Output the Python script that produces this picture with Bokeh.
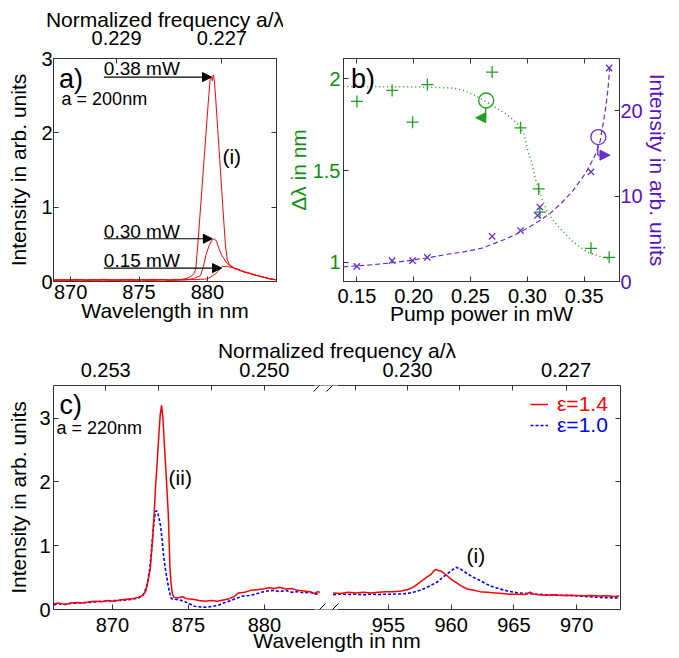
from bokeh.plotting import figure
from bokeh.models import (Range1d, LinearAxis, FixedTicker, Arrow, NormalHead, Label,
                          Legend, LegendItem, CustomJSTickFormatter)
from bokeh.layouts import column, row
from bokeh.embed import file_html
from bokeh.resources import INLINE

FONT = "Liberation Sans"
RED = "#ff0000"
BLUE = "#0000ff"
GREEN = "#1f9f1f"
GREEN_TXT = "#109010"
PURPLE = "#6a2ccc"
PURPLE_TXT = "#5a12c0"
AX = "#333333"

# ---------------- panel a data ----------------
a_lam_base = [868.8, 869.2, 869.6, 870.0, 870.4, 870.8, 871.2, 871.6, 872.0, 872.4, 872.8, 873.2,
              873.6, 874.0, 874.4, 874.8, 875.2, 875.6, 876.0, 876.4, 876.8, 877.2, 877.6, 878.0]
a_lam_tail = [882.2, 882.4, 882.6, 882.8, 883.0, 883.2, 883.4, 883.6, 883.8, 884.0, 884.2, 884.4,
              884.6, 884.8, 885.0]
a_lam_038 = a_lam_base + [878.3, 878.6, 878.8, 879.0, 879.15, 879.3, 879.5, 879.7, 879.9, 880.1,
                          880.2, 880.3, 880.36, 880.43, 880.5, 880.6, 880.75, 880.9, 881.05, 881.2,
                          881.32, 881.45, 881.6, 881.8, 882.0] + a_lam_tail
a_int_038 = [0.02, 0.025, 0.015, 0.02, 0.03, 0.02, 0.015, 0.025, 0.02, 0.03, 0.02, 0.025,
             0.015, 0.02, 0.03, 0.02, 0.025, 0.02, 0.03, 0.02, 0.025, 0.02, 0.03, 0.025,
             0.035, 0.05, 0.07, 0.1, 0.17, 0.5, 1.0, 1.5, 2.0, 2.5,
             2.72, 2.75, 2.70, 2.78, 2.72, 2.48, 2.06, 1.64, 1.22, 0.8,
             0.48, 0.3, 0.22, 0.2, 0.17,
             0.165, 0.145, 0.135, 0.12, 0.115, 0.1, 0.09, 0.085, 0.07, 0.06, 0.055, 0.04,
             0.035, 0.03, 0.025]
a_lam_030 = a_lam_base + [878.3, 878.7, 879.0, 879.25, 879.5, 879.7, 879.9, 880.1, 880.3, 880.5,
                          880.6, 880.7, 880.85, 881.0, 881.2, 881.4, 881.6, 881.8, 882.0] + a_lam_tail
a_int_030 = [0.015, 0.02, 0.025, 0.015, 0.02, 0.025, 0.02, 0.015, 0.025, 0.02, 0.015, 0.02,
             0.025, 0.02, 0.015, 0.025, 0.02, 0.015, 0.02, 0.025, 0.02, 0.015, 0.02, 0.025,
             0.025, 0.03, 0.04, 0.06, 0.08, 0.2, 0.36, 0.47, 0.55, 0.575,
             0.56, 0.52, 0.44, 0.37, 0.31, 0.25, 0.22, 0.2, 0.175,
             0.16, 0.15, 0.13, 0.125, 0.11, 0.105, 0.09, 0.08, 0.075, 0.065, 0.05, 0.045,
             0.035, 0.03, 0.02]
a_lam_015 = a_lam_base + [878.3, 878.7, 879.1, 879.5, 879.8, 880.0, 880.2, 880.4, 880.6, 880.8,
                          881.0, 881.1, 881.25, 881.4, 881.6, 881.8, 882.0] + a_lam_tail
a_int_015 = [0.02, 0.015, 0.02, 0.025, 0.015, 0.02, 0.02, 0.025, 0.015, 0.02, 0.025, 0.015,
             0.02, 0.025, 0.02, 0.015, 0.02, 0.025, 0.015, 0.02, 0.025, 0.02, 0.015, 0.02,
             0.02, 0.025, 0.025, 0.03, 0.03, 0.04, 0.055, 0.08, 0.105, 0.14,
             0.19, 0.205, 0.2, 0.205, 0.195, 0.19, 0.175,
             0.17, 0.15, 0.14, 0.125, 0.12, 0.1, 0.095, 0.08, 0.075, 0.06, 0.055, 0.045,
             0.03, 0.03, 0.025]
a_bottom_ticks = [870, 875, 880]
a_left_ticks = [0, 1, 2, 3]
a_freq_ticks = [0.229, 0.227]
a_lattice = 200.0

# ---------------- panel b data ----------------
b_power = [0.150, 0.181, 0.199, 0.212, 0.269, 0.294, 0.310, 0.311, 0.356, 0.372]
b_dlam = [1.877, 1.937, 1.764, 1.969, 2.037, 1.733, 1.400, 1.273, 1.076, 1.027]
b_power_i = [0.150, 0.181, 0.199, 0.212, 0.269, 0.294, 0.309, 0.311, 0.356, 0.372]
b_inten = [1.77, 2.44, 2.44, 2.82, 5.29, 5.96, 7.73, 8.71, 12.83, 24.99]
b_gfit_p = [0.138, 0.16, 0.18, 0.20, 0.22, 0.235, 0.245, 0.255, 0.264, 0.273, 0.281, 0.288,
            0.293, 0.297, 0.300, 0.304, 0.307, 0.311, 0.314, 0.318, 0.324, 0.331, 0.339,
            0.346, 0.353, 0.36, 0.367, 0.372]
b_gfit_d = [1.958, 1.958, 1.957, 1.956, 1.953, 1.95, 1.935, 1.905, 1.875, 1.84, 1.81, 1.775,
            1.745, 1.70, 1.62, 1.54, 1.455, 1.38, 1.327, 1.27, 1.218, 1.17, 1.118,
            1.085, 1.055, 1.04, 1.025, 1.019]
b_pfit_p = [0.138, 0.16, 0.18, 0.20, 0.215, 0.23, 0.245, 0.26, 0.27, 0.28, 0.29, 0.30, 0.31,
            0.32, 0.33, 0.34, 0.35, 0.355, 0.36, 0.364, 0.367, 0.369, 0.371, 0.3725]
b_pfit_i = [1.72, 1.92, 2.17, 2.53, 2.83, 3.19, 3.49, 3.9, 4.41, 4.92, 5.53, 6.24, 7.05,
            7.97, 9.19, 10.61, 12.44, 13.56, 14.88, 16.4, 18.74, 20.37, 22.6, 25.04]
b_x_ticks = [0.15, 0.20, 0.25, 0.30, 0.35]
b_x_labels = ["0.15", "0.20", "0.25", "0.30", "0.35"]
b_left_ticks = [1, 1.5, 2]
b_left_labels = ["1", "1.5", "2"]
b_right_ticks = [0, 10, 20]

# ---------------- panel c data ----------------
c_lamL_red = [866.15, 866.5, 866.9, 867.3, 867.7, 868.1, 868.5, 868.9, 869.3, 869.7, 870.1, 870.5,
              870.9, 871.3, 871.7, 872.0, 872.2, 872.35, 872.5, 872.65, 872.75, 872.85, 872.95,
              873.05, 873.15, 873.24, 873.33, 873.42, 873.5, 873.6, 873.68, 873.74, 873.79,
              873.87, 873.95, 874.05, 874.3, 874.6, 874.9, 875.3, 875.7, 876.1, 876.5, 876.9,
              877.3, 877.7, 878.0, 878.3, 878.7, 879.1, 879.5, 879.9, 880.3, 880.7, 881.0,
              881.4, 881.8, 882.2, 882.6, 883.0, 883.3, 883.5, 883.66]
c_intL_red = [0.09, 0.1, 0.08, 0.1, 0.11, 0.1, 0.12, 0.13, 0.12, 0.14, 0.13, 0.15,
              0.16, 0.17, 0.19, 0.22, 0.29, 0.45, 0.65, 1.1, 1.5, 1.95, 2.3,
              2.7, 3.05, 3.2, 3.0, 2.6, 2.28, 1.85, 1.5, 1.05, 0.66,
              0.4, 0.25, 0.19, 0.18, 0.2, 0.17, 0.16, 0.14, 0.13, 0.14, 0.13,
              0.15, 0.17, 0.2, 0.26, 0.27, 0.3, 0.31, 0.32, 0.34, 0.33, 0.35,
              0.32, 0.33, 0.3, 0.29, 0.28, 0.25, 0.28, 0.27]
c_lamL_blue = [866.15, 866.5, 866.9, 867.3, 867.7, 868.1, 868.5, 868.9, 869.3, 869.7, 870.1, 870.5,
               870.9, 871.3, 871.7, 872.0, 872.2, 872.3, 872.45, 872.55, 872.65, 872.75, 872.85,
               872.92, 873.0, 873.1, 873.18, 873.27, 873.36, 873.5, 873.62, 873.75, 873.88,
               874.1, 874.4, 874.7, 875.0, 875.4, 875.8, 876.2, 876.6, 877.0, 877.4, 877.8,
               878.2, 878.6, 879.0, 879.4, 879.8, 880.2, 880.6, 881.0, 881.4, 881.8, 882.2,
               882.6, 883.0, 883.4, 883.66]
c_intL_blue = [0.07, 0.09, 0.08, 0.1, 0.1, 0.11, 0.11, 0.12, 0.13, 0.13, 0.14, 0.14,
               0.15, 0.16, 0.18, 0.22, 0.32, 0.4, 0.62, 0.85, 1.15, 1.4, 1.53,
               1.55, 1.5, 1.4, 1.3, 1.1, 0.87, 0.62, 0.45, 0.28, 0.17,
               0.16, 0.15, 0.13, 0.1, 0.05, 0.04, 0.035, 0.05, 0.07, 0.11, 0.14,
               0.18, 0.21, 0.22, 0.24, 0.27, 0.29, 0.3, 0.28, 0.3, 0.27, 0.28,
               0.26, 0.27, 0.24, 0.26]
c_lamR_red = [950.6, 951.2, 951.8, 952.4, 953.0, 953.6, 954.2, 954.8, 955.4, 956.0,
              956.5, 957.0, 957.4, 957.8, 958.1, 958.4, 958.6, 958.8, 959.0, 959.2,
              959.5, 959.8, 960.1, 960.5, 960.9, 961.3, 961.8, 962.3, 962.9, 963.5,
              964.1, 964.7, 965.3, 965.9, 966.3, 966.6, 967.0, 967.6, 968.2, 968.8,
              969.4, 970.0, 970.6, 971.2, 971.8, 972.4, 973.0, 973.4]
c_intR_red = [0.26, 0.25, 0.27, 0.26, 0.27, 0.26, 0.27, 0.28, 0.28, 0.29,
              0.31, 0.35, 0.41, 0.47, 0.51, 0.55, 0.6, 0.63, 0.61, 0.6,
              0.56, 0.51, 0.46, 0.41, 0.36, 0.32, 0.3, 0.28, 0.27, 0.26,
              0.25, 0.24, 0.24, 0.235, 0.27, 0.24, 0.23, 0.225, 0.23, 0.22,
              0.225, 0.22, 0.215, 0.22, 0.21, 0.215, 0.205, 0.21]
c_lamR_blue = [950.6, 951.2, 951.8, 952.4, 953.0, 953.6, 954.2, 954.8, 955.4, 956.0,
               956.5, 957.0, 957.5, 958.0, 958.5, 958.9, 959.3, 959.7, 960.1, 960.4,
               960.7, 961.0, 961.3, 961.8, 962.35, 962.9, 963.4, 963.9, 964.5, 965.2,
               966.0, 966.8, 967.6, 968.4, 969.5, 970.3, 971.0, 971.8, 972.5, 973.4]
c_intR_blue = [0.23, 0.24, 0.235, 0.24, 0.23, 0.24, 0.235, 0.24, 0.24, 0.245,
               0.25, 0.27, 0.3, 0.34, 0.39, 0.43, 0.5, 0.56, 0.62, 0.66,
               0.64, 0.6, 0.56, 0.5, 0.45, 0.39, 0.35, 0.32, 0.29, 0.265,
               0.25, 0.24, 0.23, 0.225, 0.22, 0.21, 0.2, 0.19, 0.185, 0.18]
c_left_ticks = [870, 875, 880]
c_right_ticks = [955, 960, 965, 970]
c_freq_left = [0.253, 0.252, 0.251, 0.250]
c_freq_right = [0.231, 0.230, 0.229, 0.228, 0.227]
c_freq_labeled = [0.253, 0.250, 0.230, 0.227]
c_y_ticks = [0, 1, 2, 3]
c_lattice = 220.0
legend_labels = ["\u03b5=1.4", "\u03b5=1.0"]


def style(ax, color="black", std=2, lstd=4):
    ax.major_tick_in = 5
    ax.major_tick_out = 0
    ax.minor_tick_line_color = None
    ax.major_tick_line_color = AX
    ax.axis_line_color = AX
    ax.major_label_text_font = FONT
    ax.major_label_text_font_size = "20px"
    ax.major_label_text_color = color
    ax.axis_label_text_font = FONT
    ax.axis_label_text_font_size = "21px"
    ax.axis_label_text_font_style = "normal"
    ax.axis_label_text_color = color
    ax.major_label_standoff = std
    ax.axis_label_standoff = lstd


def mirror(p, side, ticks, **kw):
    ax = LinearAxis(ticker=FixedTicker(ticks=ticks, minor_ticks=[]),
                    formatter=CustomJSTickFormatter(code="return ''"), **kw)
    style(ax, std=0, lstd=0)
    ax.major_label_text_font_size = "0px"
    p.add_layout(ax, side)


def txt(p, x, y, text, size, color="black", align="left"):
    p.add_layout(Label(x=x, y=y, text=text, text_font=FONT, text_font_size=size,
                       text_color=color, text_baseline="middle", text_align=align))


def arrow(p, x0, y0, x1, y1, color="black", size=9, **kw):
    p.add_layout(Arrow(end=NormalHead(size=size, fill_color=color, line_color=color, line_width=1),
                       x_start=x0, y_start=y0, x_end=x1, y_end=y1,
                       line_color=color, line_width=1.2, **kw))


# ================= panel a =================
pa = figure(width=283, height=330, x_range=Range1d(868.75, 885.05), y_range=Range1d(0, 3),
            output_backend="svg", toolbar_location=None,
            min_border_left=53, min_border_right=7, min_border_top=58, min_border_bottom=49)
pa.grid.visible = False
pa.outline_line_color = AX
xa = pa.xaxis[0]
xa.ticker = FixedTicker(ticks=a_bottom_ticks, minor_ticks=[])
xa.axis_label = "Wavelength in nm"
style(xa, std=3, lstd=-3)
ya = pa.yaxis[0]
ya.ticker = FixedTicker(ticks=a_left_ticks, minor_ticks=[])
ya.axis_label = "Intensity in arb. units"
style(ya, std=1, lstd=8)
a_top_pos = [round(a_lattice / f, 4) for f in a_freq_ticks]
ta = LinearAxis(ticker=FixedTicker(ticks=a_top_pos, minor_ticks=[]),
                major_label_overrides={pos: "%.3f" % f for pos, f in zip(a_top_pos, a_freq_ticks)},
                axis_label="Normalized frequency a/\u03bb")
style(ta, std=14, lstd=-3)
pa.add_layout(ta, "above")
mirror(pa, "right", a_left_ticks)

pa.line(a_lam_015, a_int_015, color=RED, line_width=1)
pa.line(a_lam_030, a_int_030, color=RED, line_width=1)
pa.line(a_lam_038, a_int_038, color=RED, line_width=1)

arrow(pa, 872.43, 2.75, 880.3, 2.75)
arrow(pa, 872.43, 0.575, 880.36, 0.575)
arrow(pa, 872.43, 0.18, 881.03, 0.18)
txt(pa, 872.43, 2.86, "0.38 mW", "19px")
txt(pa, 872.43, 0.67, "0.30 mW", "19px")
txt(pa, 872.43, 0.28, "0.15 mW", "19px")
txt(pa, 869.15, 2.72, "a)", "27px")
txt(pa, 869.34, 2.45, "a = 200nm", "18px")
txt(pa, 881.1, 1.68, "(i)", "21px")

# ================= panel b =================
pb = figure(width=396, height=330, x_range=Range1d(0.1382, 0.3811), y_range=Range1d(0.895, 2.111),
            output_backend="svg", toolbar_location=None,
            min_border_left=55, min_border_right=60, min_border_top=58, min_border_bottom=49)
pb.extra_y_ranges = {"int": Range1d(0, 26.1)}
pb.grid.visible = False
pb.outline_line_color = AX
xb = pb.xaxis[0]
xb.ticker = FixedTicker(ticks=b_x_ticks, minor_ticks=[])
xb.major_label_overrides = dict(zip(b_x_ticks, b_x_labels))
xb.axis_label = "Pump power in mW"
style(xb, std=7, lstd=-4)
yb = pb.yaxis[0]
yb.ticker = FixedTicker(ticks=b_left_ticks, minor_ticks=[])
yb.major_label_overrides = dict(zip(b_left_ticks, b_left_labels))
yb.axis_label = "\u0394\u03bb in nm"
style(yb, color=GREEN_TXT, std=3, lstd=0)
rb = LinearAxis(y_range_name="int", ticker=FixedTicker(ticks=b_right_ticks, minor_ticks=[]),
                axis_label="Intensity in arb. units")
style(rb, color=PURPLE_TXT, std=1, lstd=0)
pb.add_layout(rb, "right")
mirror(pb, "above", b_x_ticks)

pb.line(b_gfit_p, b_gfit_d, color=GREEN, line_width=1.5, line_dash="1 3")
pb.line(b_pfit_p, b_pfit_i, color=PURPLE, line_width=1.2, line_dash="5 3", y_range_name="int")
pb.scatter(b_power, b_dlam, marker="cross", size=12, line_color=GREEN, line_width=1.3)
pb.scatter(b_power_i, b_inten, marker="x", size=9, line_color=PURPLE, line_width=1.3,
           y_range_name="int")
# marker circles with arrows pointing to the respective axis
g_circle = (0.2638, 1.882)
p_circle = (0.3625, 16.9)
pb.scatter([g_circle[0]], [g_circle[1]], marker="circle", size=15, fill_color=None,
           line_color=GREEN, line_width=1.3)
pb.scatter([p_circle[0]], [p_circle[1]], marker="circle", size=15, fill_color=None,
           line_color=PURPLE, line_width=1.3, y_range_name="int")
pb.line([0.2633, 0.2633], [1.842, 1.788], color=GREEN, line_width=1.3)
arrow(pb, 0.2633, 1.788, 0.2546, 1.788, color=GREEN, size=10)
pb.line([0.3620, 0.3620], [16.05, 14.79], color=PURPLE, line_width=1.3, y_range_name="int")
arrow(pb, 0.3620, 14.79, 0.3727, 14.79, color=PURPLE, size=10, y_range_name="int")
txt(pb, 0.1448, 1.997, "b)", "27px")

# ================= panel c =================
pc = figure(width=679, height=328, x_range=Range1d(866.13, 903.43), y_range=Range1d(0, 3.51),
            output_backend="svg", toolbar_location=None,
            min_border_left=53, min_border_right=59, min_border_top=55, min_border_bottom=49)
pc.grid.visible = False
pc.outline_line_color = None
SRC = (950.55, 973.5)
TGT = (884.485, 903.43)
sub = pc.subplot(x_source=Range1d(*SRC), y_source=Range1d(0, 3.51),
                 x_target=Range1d(*TGT), y_target=Range1d(0, 3.51))


def to_parent(v):
    return round(TGT[0] + (v - SRC[0]) * (TGT[1] - TGT[0]) / (SRC[1] - SRC[0]), 4)


xc = pc.xaxis[0]
c_bottom_pos = list(c_left_ticks) + [to_parent(v) for v in c_right_ticks]
c_bottom_lab = [str(v) for v in c_left_ticks] + [str(v) for v in c_right_ticks]
xc.ticker = FixedTicker(ticks=c_bottom_pos, minor_ticks=[])
xc.major_label_overrides = dict(zip(c_bottom_pos, c_bottom_lab))
xc.axis_label = "Wavelength in nm"
style(xc, std=8, lstd=-6)
yc = pc.yaxis[0]
yc.ticker = FixedTicker(ticks=c_y_ticks, minor_ticks=[])
yc.axis_label = "Intensity in arb. units"
style(yc, std=3, lstd=6)
c_top_pos = [round(c_lattice / f, 4) for f in c_freq_left] + \
            [to_parent(c_lattice / f) for f in c_freq_right]
c_top_all = c_freq_left + c_freq_right
c_top_lab = {pos: ("%.3f" % f if f in c_freq_labeled else "") for pos, f in zip(c_top_pos, c_top_all)}
tc = LinearAxis(ticker=FixedTicker(ticks=c_top_pos, minor_ticks=[]), major_label_overrides=c_top_lab,
                axis_label="Normalized frequency a/\u03bb")
style(tc, std=9, lstd=-2)
pc.add_layout(tc, "above")
mirror(pc, "right", c_y_ticks)

pc.line(c_lamL_blue, c_intL_blue, color=BLUE, line_width=1.6, line_dash="3 2")
pc.line(c_lamL_red, c_intL_red, color=RED, line_width=1.5)
rB = sub.line(c_lamR_blue, c_intR_blue, color=BLUE, line_width=1.6, line_dash="3 2")
rR = sub.line(c_lamR_red, c_intR_red, color=RED, line_width=1.5)

# axis break marks
for yb0 in (3.51, 0.0):
    pc.add_layout(Arrow(end=None, x_start=883.3, y_start=yb0, x_end=884.85, y_end=yb0,
                        line_color="white", line_width=4))
    for xs in (883.235, 884.09):
        pc.add_layout(Arrow(end=None, x_start=xs, y_start=yb0 - 0.094, x_end=xs + 0.79,
                            y_end=yb0 + 0.094, line_color="black", line_width=1))

for lab, r, col, ly in ((legend_labels[0], rR, RED, 193), (legend_labels[1], rB, BLUE, 172)):
    leg = Legend(items=[LegendItem(label=lab, renderers=[r])], location=(477, ly),
                 border_line_color=None, background_fill_alpha=0, padding=0, margin=0,
                 spacing=0, glyph_width=18, glyph_height=24, label_height=24, label_standoff=9,
                 label_text_font=FONT, label_text_font_size="21px", label_text_color=col)
    pc.add_layout(leg)

txt(pc, 866.52, 3.21, "c)", "27px")
txt(pc, 866.33, 2.85, "a = 220nm", "18px")
txt(pc, 873.7, 2.07, "(ii)", "21px")
txt(pc, 893.3, 0.85, "(i)", "21px")

layout = column(row(pa, pb), pc)
open("out.html", "w").write(file_html(layout, INLINE))
